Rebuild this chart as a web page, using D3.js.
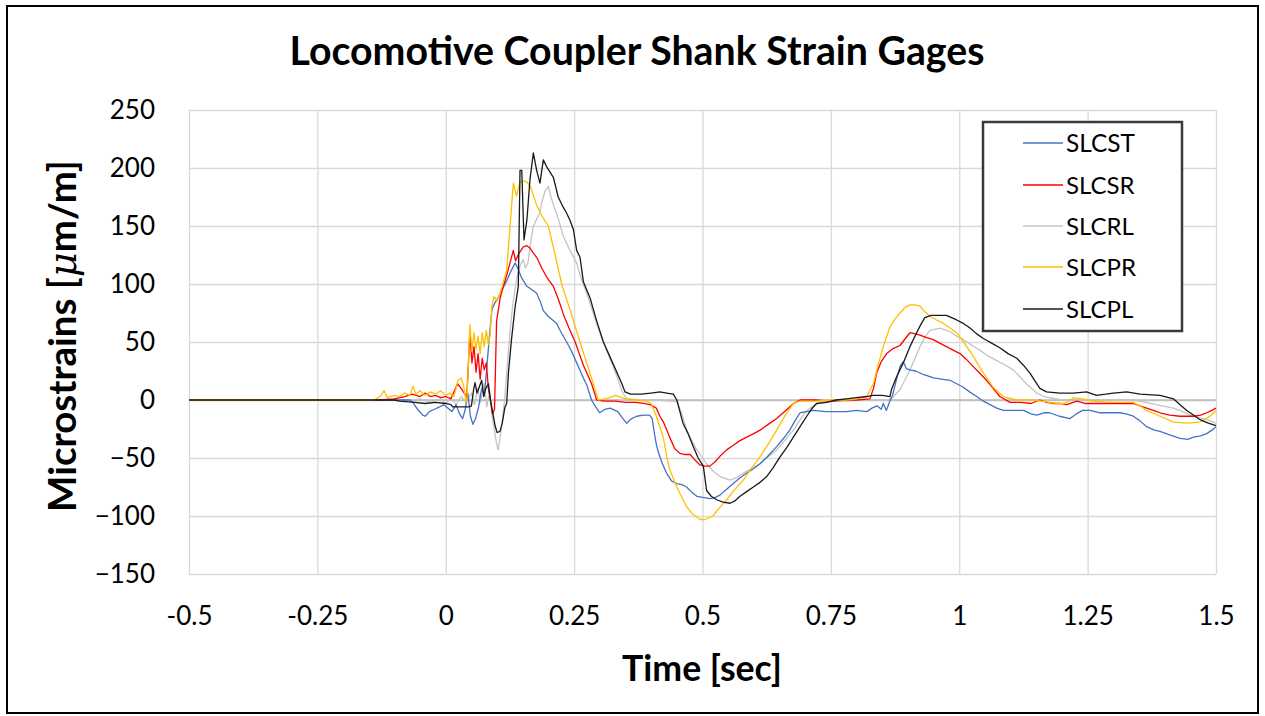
<!DOCTYPE html>
<html><head><meta charset="utf-8">
<script src="https://cdn.jsdelivr.net/npm/d3@7"></script>
<style>html,body{margin:0;padding:0;background:#fff;}</style>
</head><body>
<script>
const chartTitle = "Locomotive Coupler Shank Strain Gages";
const xTicks = [-0.5, -0.25, 0, 0.25, 0.5, 0.75, 1, 1.25, 1.5];
const yTicks = [-150, -100, -50, 0, 50, 100, 150, 200, 250];
const seriesNames = ["SLCST", "SLCSR", "SLCRL", "SLCPR", "SLCPL"];
const seriesColors = ["#4472C4", "#FF0000", "#C4C4C4", "#FFC000", "#1a1a1a"];

const SLCST = [[-0.5,0],[-0.07,0],[-0.064,-2],[-0.055,-8],[-0.045,-13],[-0.04,-14],[-0.032,-10],[-0.022,-8],[-0.012,-6],[-0.004,-4],[0.004,-7],[0.012,-10],[0.02,-4],[0.027,-12],[0.033,-16],[0.038,-8],[0.043,6],[0.048,-14],[0.053,-21],[0.058,-16],[0.064,-6],[0.07,10],[0.075,4],[0.08,28],[0.086,60],[0.09,78],[0.096,84],[0.102,88],[0.11,95],[0.12,104],[0.128,112],[0.135,118],[0.14,114],[0.147,106],[0.158,98],[0.168,95],[0.177,92],[0.184,85],[0.19,77],[0.2,72],[0.216,66],[0.225,58],[0.2355,50],[0.245,42],[0.255,32],[0.265,22],[0.2745,13],[0.284,0],[0.292,-6],[0.3,-11],[0.31,-8],[0.32,-7],[0.335,-10],[0.345,-16],[0.352,-20],[0.362,-16],[0.372,-14],[0.385,-13],[0.397,-13],[0.402,-16],[0.406,-28],[0.41,-38],[0.414,-45],[0.422,-55],[0.43,-63],[0.44,-70],[0.45,-72],[0.46,-73],[0.469,-75],[0.478,-79],[0.489,-83],[0.5,-84],[0.515,-85],[0.525,-84],[0.534,-82],[0.547,-77],[0.56,-72],[0.573,-67],[0.586,-63],[0.6,-59],[0.612,-55],[0.628,-48],[0.645,-40],[0.658,-33],[0.67,-26],[0.68,-18],[0.69,-11],[0.703,-10],[0.716,-9],[0.74,-10],[0.76,-10],[0.78,-10],[0.8,-9],[0.82,-10],[0.83,-7],[0.84,-5],[0.848,-8],[0.852,-3],[0.858,-9],[0.864,-2],[0.87,4],[0.878,18],[0.8846,29],[0.891,33],[0.897,27],[0.904,26],[0.915,25],[0.93,22],[0.95,19],[0.965,18],[0.982,17],[0.995,14],[1.008,11],[1.02,7],[1.034,3],[1.047,-1],[1.06,-4],[1.073,-7],[1.086,-9],[1.1,-9],[1.125,-9],[1.14,-12],[1.151,-13],[1.165,-11],[1.176,-11],[1.195,-14],[1.2157,-16],[1.228,-12],[1.24,-9],[1.255,-9],[1.274,-11],[1.295,-11],[1.313,-11],[1.325,-12],[1.339,-14],[1.352,-18],[1.365,-23],[1.38,-26],[1.391,-27],[1.41,-30],[1.43,-33],[1.445,-34],[1.456,-32],[1.47,-31],[1.482,-29],[1.492,-26],[1.5,-23]];

const SLCSR = [[-0.5,0],[-0.13,0],[-0.1,1],[-0.08,3],[-0.065,5],[-0.05,3],[-0.04,6],[-0.03,3],[-0.02,4],[-0.01,2],[0.0,3],[0.01,1],[0.018,9],[0.023,14],[0.03,10],[0.036,6],[0.041,3],[0.047,58],[0.051,32],[0.055,46],[0.059,24],[0.063,40],[0.067,18],[0.071,36],[0.075,26],[0.079,32],[0.083,10],[0.087,0],[0.091,-12],[0.095,-8],[0.099,68],[0.106,88],[0.112,98],[0.119,108],[0.125,118],[0.1316,129],[0.136,120],[0.142,126],[0.151,132],[0.158,133],[0.164,131],[0.17,127],[0.177,123],[0.1866,114],[0.1966,106],[0.2095,98],[0.22,86],[0.229,74],[0.24,62],[0.252,50],[0.26,40],[0.268,30],[0.276,22],[0.284,14],[0.294,0],[0.31,-1],[0.33,-1],[0.35,-2],[0.37,-2],[0.385,-3],[0.398,-4],[0.41,-7],[0.417,-14],[0.425,-20],[0.436,-32],[0.446,-42],[0.456,-46],[0.466,-47],[0.476,-47],[0.486,-52],[0.495,-56],[0.505,-57],[0.5146,-57],[0.525,-53],[0.535,-48],[0.547,-43],[0.56,-39],[0.573,-35],[0.586,-32],[0.6,-29],[0.612,-26],[0.628,-21],[0.6445,-16],[0.66,-10],[0.677,-3],[0.69,0],[0.72,0],[0.75,-1],[0.78,0],[0.8,0],[0.826,1],[0.833,10],[0.839,23],[0.848,33],[0.8587,40],[0.87,44],[0.8846,47],[0.895,53],[0.904,58],[0.915,57],[0.9236,56],[0.935,54],[0.9495,52],[0.962,49],[0.975,46],[0.988,43],[1.0015,40],[1.014,35],[1.027,29],[1.04,23],[1.053,17],[1.066,10],[1.079,3],[1.099,-2],[1.12,-2],[1.14,-3],[1.157,0],[1.17,-2],[1.183,-3],[1.196,-3],[1.209,-4],[1.229,-1],[1.245,-3],[1.261,-3],[1.3,-3],[1.339,-3],[1.352,-5],[1.365,-7],[1.378,-9],[1.391,-11],[1.41,-13],[1.43,-14],[1.456,-14],[1.47,-13],[1.482,-11],[1.492,-9],[1.5,-7]];

const SLCRL = [[-0.5,0],[-0.1,0],[-0.08,-1],[-0.05,1],[-0.03,-2],[-0.01,1],[0.0,-3],[0.01,2],[0.02,-4],[0.03,3],[0.04,-2],[0.05,6],[0.056,-4],[0.062,10],[0.068,-2],[0.074,14],[0.08,-6],[0.086,8],[0.09,-14],[0.095,-26],[0.099,-38],[0.102,-43],[0.106,-32],[0.11,-18],[0.115,2],[0.12,30],[0.125,58],[0.13,80],[0.135,96],[0.14,108],[0.145,116],[0.1505,121],[0.155,114],[0.16,118],[0.164,132],[0.17,149],[0.177,156],[0.183,161],[0.1868,170],[0.1933,180],[0.1997,184],[0.205,175],[0.21,168],[0.22,155],[0.229,141],[0.242,129],[0.255,118],[0.265,103],[0.2745,92],[0.287,75],[0.3,58],[0.313,43],[0.326,29],[0.335,18],[0.3427,8],[0.352,1],[0.38,0],[0.41,0],[0.44,-1],[0.45,-1],[0.46,-12],[0.469,-26],[0.479,-35],[0.489,-43],[0.5,-50],[0.508,-55],[0.52,-61],[0.534,-66],[0.5535,-69],[0.566,-67],[0.5795,-63],[0.595,-59],[0.612,-55],[0.628,-49],[0.6445,-43],[0.66,-35],[0.677,-26],[0.69,-17],[0.703,-9],[0.716,-5],[0.729,-2],[0.75,-1],[0.78,-1],[0.8,0],[0.83,0],[0.86,0],[0.87,2],[0.8846,9],[0.894,17],[0.904,26],[0.914,36],[0.9236,46],[0.933,54],[0.943,60],[0.9625,62],[0.982,59],[0.995,55],[1.008,52],[1.025,47],[1.04,43],[1.056,38],[1.073,34],[1.09,30],[1.105,26],[1.118,20],[1.131,14],[1.141,10],[1.151,6],[1.165,3],[1.2,0],[1.25,0],[1.3,0],[1.34,0],[1.372,-3],[1.395,-5],[1.417,-7],[1.435,-10],[1.449,-13],[1.465,-15],[1.482,-17],[1.5,-20]];

const SLCPR = [[-0.5,0],[-0.14,0],[-0.128,3],[-0.12,8],[-0.114,2],[-0.1,4],[-0.09,3],[-0.08,6],[-0.07,4],[-0.064,12],[-0.058,5],[-0.05,8],[-0.04,4],[-0.03,7],[-0.02,5],[-0.01,8],[0.0,4],[0.008,6],[0.016,3],[0.02,10],[0.024,17],[0.03,19],[0.035,12],[0.0395,-2],[0.0414,0],[0.047,65],[0.051,42],[0.055,58],[0.059,44],[0.063,55],[0.067,40],[0.071,58],[0.075,46],[0.079,60],[0.083,48],[0.0865,56],[0.0895,80],[0.094,89],[0.1,86],[0.1057,92],[0.112,102],[0.1187,112],[0.125,149],[0.1316,187],[0.138,176],[0.1446,188],[0.151,189],[0.1576,188],[0.165,184],[0.177,168],[0.188,158],[0.1998,150],[0.213,125],[0.2258,100],[0.244,75],[0.2615,50],[0.275,31],[0.2875,14],[0.297,0],[0.31,1],[0.32,2],[0.33,4],[0.337,3],[0.35,1],[0.37,0],[0.39,-1],[0.4,-3],[0.4075,-11],[0.417,-23],[0.424,-33],[0.43,-48],[0.436,-60],[0.45,-75],[0.46,-84],[0.469,-92],[0.48,-98],[0.495,-103],[0.505,-103],[0.52,-100],[0.533,-93],[0.547,-86],[0.563,-77],[0.5795,-69],[0.595,-59],[0.612,-49],[0.628,-38],[0.6445,-26],[0.66,-14],[0.677,-3],[0.69,-1],[0.72,-1],[0.75,0],[0.78,0],[0.8,1],[0.82,3],[0.8327,14],[0.842,30],[0.852,46],[0.865,63],[0.875,70],[0.8846,75],[0.895,80],[0.904,82],[0.914,82],[0.9236,81],[0.933,76],[0.943,72],[0.956,69],[0.969,66],[0.982,62],[0.995,58],[1.005,52],[1.0146,46],[1.027,38],[1.0404,28],[1.053,19],[1.066,11],[1.0858,3],[1.112,0],[1.14,0],[1.16,-1],[1.189,-3],[1.205,-3],[1.222,2],[1.24,1],[1.26,-1],[1.3,-2],[1.339,-2],[1.352,-5],[1.365,-9],[1.391,-14],[1.417,-19],[1.443,-20],[1.469,-19],[1.488,-14],[1.5,-9]];

const SLCPL = [[-0.5,0],[-0.1,0],[-0.09,-1],[-0.06,-2],[-0.04,-3],[-0.02,-2],[0.0,-3],[0.01,-4],[0.014,-6],[0.03,-6],[0.045,-6],[0.05,-5],[0.054,8],[0.057,15],[0.061,6],[0.066,12],[0.07,17],[0.074,3],[0.078,10],[0.083,14],[0.087,0],[0.092,-12],[0.096,-22],[0.1,-28],[0.1056,-27],[0.11,-20],[0.1154,-6],[0.1187,-3],[0.122,23],[0.128,52],[0.135,80],[0.1413,98],[0.1446,198],[0.148,198],[0.1524,138],[0.158,155],[0.164,190],[0.1706,213],[0.177,198],[0.1835,187],[0.19,207],[0.1966,201],[0.2095,192],[0.219,175],[0.229,166],[0.2355,161],[0.242,155],[0.2485,147],[0.255,129],[0.2615,123],[0.268,102],[0.281,88],[0.294,68],[0.307,50],[0.325,32],[0.343,14],[0.349,7],[0.36,5],[0.38,5],[0.4,6],[0.417,7],[0.43,6],[0.443,5],[0.45,0],[0.462,-20],[0.472,-29],[0.482,-40],[0.4916,-50],[0.5016,-57],[0.508,-78],[0.517,-83],[0.5275,-86],[0.54,-88],[0.5535,-89],[0.563,-87],[0.573,-83],[0.586,-79],[0.599,-75],[0.612,-71],[0.625,-66],[0.638,-58],[0.651,-49],[0.664,-41],[0.677,-32],[0.69,-23],[0.703,-14],[0.712,-8],[0.722,-3],[0.742,-2],[0.76,0],[0.78,1],[0.8,2],[0.82,3],[0.832,4],[0.85,4],[0.865,3],[0.868,9],[0.878,20],[0.891,32],[0.904,46],[0.917,58],[0.925,65],[0.933,71],[0.945,73],[0.956,73],[0.975,73],[0.995,69],[1.008,66],[1.021,62],[1.034,57],[1.047,53],[1.063,49],[1.079,45],[1.095,40],[1.112,36],[1.125,30],[1.138,23],[1.148,16],[1.157,10],[1.17,7],[1.196,6],[1.222,6],[1.248,7],[1.267,4],[1.285,5],[1.3,6],[1.326,7],[1.352,5],[1.391,4],[1.417,1],[1.43,-4],[1.443,-9],[1.456,-13],[1.469,-17],[1.485,-20],[1.5,-22]];

const seriesData = [SLCST, SLCSR, SLCRL, SLCPR, SLCPL];

const W = 1265, H = 716;
const FONT = "Lato, 'Open Sans', sans-serif";
const svg = d3.select("body").append("svg").attr("width", W).attr("height", H)
  .style("font-family", FONT);

svg.append("rect").attr("x", 7).attr("y", 6).attr("width", 1251).attr("height", 707)
  .attr("fill", "#fff").attr("stroke", "#000").attr("stroke-width", 2);

const x = d3.scaleLinear().domain([-0.5, 1.5]).range([189, 1216]);
const y = d3.scaleLinear().domain([-150, 250]).range([574, 110]);

// gridlines
const gy = svg.append("g").attr("transform", "translate(189,0)")
  .call(d3.axisLeft(y).tickValues(yTicks).tickSize(-(1216 - 189)).tickPadding(34).tickFormat(d3.format("d")));
gy.select(".domain").remove();
gy.selectAll("line").attr("stroke", d => d === 0 ? "#bfbfbf" : "#d9d9d9").attr("stroke-width", d => d === 0 ? 1.6 : 1.3);
gy.selectAll("text").attr("font-size", 26).attr("fill", "#000").attr("font-family", FONT);

const gx = svg.append("g").attr("transform", "translate(0,574)")
  .call(d3.axisBottom(x).tickValues(xTicks).tickSize(-(574 - 110)).tickPadding(33).tickFormat(d => String(d)));
gx.select(".domain").remove();
gx.selectAll("line").attr("stroke", "#d9d9d9").attr("stroke-width", 1.3);
gx.selectAll("text").attr("font-size", 26).attr("fill", "#000").attr("font-family", FONT);
// redraw zero line on top of vertical grid
svg.append("line").attr("x1", x(-0.5)).attr("x2", x(1.5)).attr("y1", y(0)).attr("y2", y(0))
  .attr("stroke", "#bfbfbf").attr("stroke-width", 1.6);

const line = d3.line().x(d => x(d[0])).y(d => y(d[1]));
const drawOrder = [2, 0, 1, 3, 4];
drawOrder.forEach(i => {
  svg.append("path").datum(seriesData[i]).attr("d", line)
    .attr("fill", "none").attr("stroke", seriesColors[i]).attr("stroke-width", 1.3)
    .attr("stroke-linejoin", "round");
});

function fit(sel, width) {
  const n = sel.node();
  const fs = parseFloat(sel.attr("font-size"));
  const w = n.getComputedTextLength();
  if (w > 0) sel.attr("font-size", fs * width / w);
}

const t = svg.append("text").attr("x", 637).attr("y", 65).attr("text-anchor", "middle")
  .attr("font-size", 30).attr("font-weight", "bold").text(chartTitle);
fit(t, 695);

const xt = svg.append("text").attr("x", 702).attr("y", 681).attr("text-anchor", "middle")
  .attr("font-size", 30).attr("font-weight", "bold").text("Time [sec]");
fit(xt, 160);

const yt = svg.append("text").attr("transform", "translate(76,336) rotate(-90)")
  .attr("text-anchor", "middle").attr("font-size", 30).attr("font-weight", "bold");
yt.append("tspan").text("Microstrains [");
yt.append("tspan").attr("font-style", "italic").attr("font-weight", "normal").attr("font-family", "'DejaVu Serif', serif").text("μ");
yt.append("tspan").text("m/m]");
fit(yt, 352);

// legend
const lg = svg.append("g");
lg.append("rect").attr("x", 983).attr("y", 122).attr("width", 199).attr("height", 209)
  .attr("fill", "#fff").attr("stroke", "#3a3a3a").attr("stroke-width", 2.5);
const legY = [143, 185, 226, 267, 309];
seriesNames.forEach((nm, i) => {
  lg.append("line").attr("x1", 1023).attr("x2", 1063).attr("y1", legY[i]).attr("y2", legY[i])
    .attr("stroke", seriesColors[i]).attr("stroke-width", 1.3);
  const tx = lg.append("text").attr("x", 1066).attr("y", legY[i] + 9).attr("font-size", 24)
    .attr("fill", "#000").text(nm);
  if (i === 0) fit(tx, 69);
});
</script>
</body></html>
